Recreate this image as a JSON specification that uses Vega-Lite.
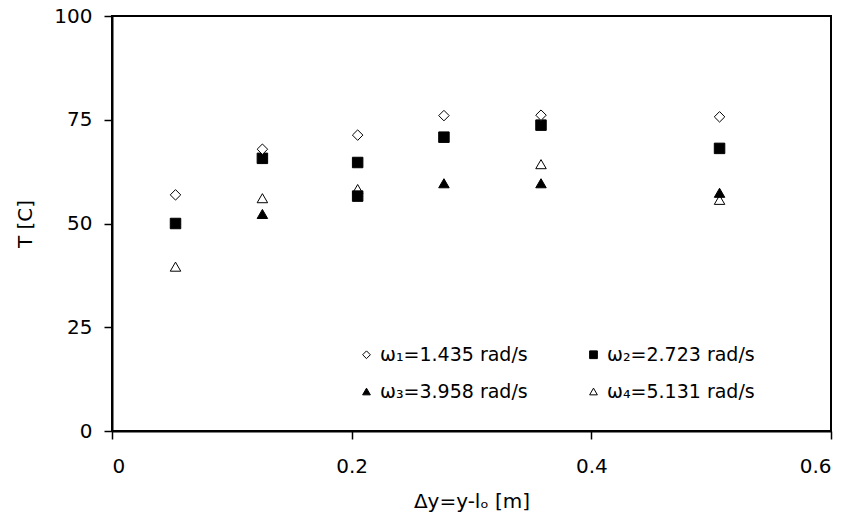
{
  "$schema": "https://vega.github.io/schema/vega-lite/v6.json",
  "width": 719,
  "height": 415,
  "autosize": "none",
  "padding": {"left": 112, "top": 16, "right": 32, "bottom": 88},
  "background": "white",
  "config": {
    "font": "DejaVu Sans",
    "view": {"stroke": "black", "strokeWidth": 2},
    "legend": {"symbolStrokeColor": "black", "symbolStrokeWidth": 1},
    "axis": {
      "domainColor": "black", "domainWidth": 2,
      "tickColor": "black", "tickWidth": 1.5, "tickSize": 8,
      "labelColor": "black", "labelFont": "DejaVu Sans", "labelFontSize": 20,
      "titleColor": "black", "titleFont": "DejaVu Sans", "titleFontSize": 20, "titleFontWeight": "normal",
      "grid": false
    }
  },
  "data": {
    "values": [
      {"x": 0.053, "T": 39.6, "s": "ω₄=5.131 rad/s"},
      {"x": 0.1255, "T": 56.1, "s": "ω₄=5.131 rad/s"},
      {"x": 0.205, "T": 58.3, "s": "ω₄=5.131 rad/s"},
      {"x": 0.358, "T": 64.3, "s": "ω₄=5.131 rad/s"},
      {"x": 0.507, "T": 55.7, "s": "ω₄=5.131 rad/s"},
      {"x": 0.1255, "T": 52.3, "s": "ω₃=3.958 rad/s"},
      {"x": 0.277, "T": 59.7, "s": "ω₃=3.958 rad/s"},
      {"x": 0.358, "T": 59.7, "s": "ω₃=3.958 rad/s"},
      {"x": 0.507, "T": 57.4, "s": "ω₃=3.958 rad/s"},
      {"x": 0.053, "T": 50.0, "s": "ω₂=2.723 rad/s"},
      {"x": 0.1255, "T": 65.7, "s": "ω₂=2.723 rad/s"},
      {"x": 0.205, "T": 64.7, "s": "ω₂=2.723 rad/s"},
      {"x": 0.205, "T": 56.6, "s": "ω₂=2.723 rad/s"},
      {"x": 0.277, "T": 70.8, "s": "ω₂=2.723 rad/s"},
      {"x": 0.358, "T": 73.7, "s": "ω₂=2.723 rad/s"},
      {"x": 0.507, "T": 68.1, "s": "ω₂=2.723 rad/s"},
      {"x": 0.053, "T": 56.9, "s": "ω₁=1.435 rad/s"},
      {"x": 0.1255, "T": 67.9, "s": "ω₁=1.435 rad/s"},
      {"x": 0.205, "T": 71.3, "s": "ω₁=1.435 rad/s"},
      {"x": 0.277, "T": 76.0, "s": "ω₁=1.435 rad/s"},
      {"x": 0.358, "T": 76.1, "s": "ω₁=1.435 rad/s"},
      {"x": 0.507, "T": 75.7, "s": "ω₁=1.435 rad/s"}
    ]
  },
  "mark": {"type": "point", "filled": false, "strokeWidth": 1, "opacity": 1, "fillOpacity": 1, "strokeOpacity": 1, "size": 110},
  "encoding": {
    "x": {
      "field": "x", "type": "quantitative",
      "scale": {"domain": [0, 0.6], "nice": false, "zero": false},
      "axis": {"values": [0, 0.2, 0.4, 0.6], "format": ".1~f", "labelPadding": 17, "title": "Δy=y-lₒ [m]", "titleY": 70, "titleBaseline": "middle"}
    },
    "y": {
      "field": "T", "type": "quantitative",
      "scale": {"domain": [0, 100], "nice": false},
      "axis": {"values": [0, 25, 50, 75, 100], "labelPadding": 12, "title": "T [C]", "titleX": -87, "titleY": 207.5, "titleAngle": -90, "titleBaseline": "middle", "titleAlign": "center"}
    },
    "shape": {
      "field": "s", "type": "nominal",
      "scale": {
        "domain": ["ω₁=1.435 rad/s", "ω₃=3.958 rad/s", "ω₂=2.723 rad/s", "ω₄=5.131 rad/s"],
        "range": ["diamond", "triangle-up", "square", "triangle-up"]
      },
      "legend": {
        "title": null, "orient": "none", "legendX": 245, "legendY": 329, "columns": 2,
        "columnPadding": 56, "rowPadding": 17, "padding": 0,
        "symbolSize": 60, "symbolStrokeWidth": 1,
        "labelFont": "DejaVu Sans", "labelFontSize": 19, "labelColor": "black", "labelOffset": 4, "labelLimit": 300
      }
    },
    "stroke": {
      "field": "s", "type": "nominal",
      "scale": {
        "domain": ["ω₁=1.435 rad/s", "ω₃=3.958 rad/s", "ω₂=2.723 rad/s", "ω₄=5.131 rad/s"],
        "range": ["black", "black", "black", "black"]
      },
      "legend": {
        "title": null, "orient": "none", "legendX": 245, "legendY": 329, "columns": 2,
        "columnPadding": 56, "rowPadding": 17, "padding": 0,
        "symbolSize": 60, "symbolStrokeWidth": 1,
        "labelFont": "DejaVu Sans", "labelFontSize": 19, "labelColor": "black", "labelOffset": 4, "labelLimit": 300
      }
    },
    "fill": {
      "field": "s", "type": "nominal",
      "scale": {
        "domain": ["ω₁=1.435 rad/s", "ω₃=3.958 rad/s", "ω₂=2.723 rad/s", "ω₄=5.131 rad/s"],
        "range": ["white", "black", "black", "white"]
      },
      "legend": {
        "title": null, "orient": "none", "legendX": 245, "legendY": 329, "columns": 2,
        "columnPadding": 56, "rowPadding": 17, "padding": 0,
        "symbolSize": 60, "symbolStrokeWidth": 1,
        "labelFont": "DejaVu Sans", "labelFontSize": 19, "labelColor": "black", "labelOffset": 4, "labelLimit": 300
      }
    }
  }
}
